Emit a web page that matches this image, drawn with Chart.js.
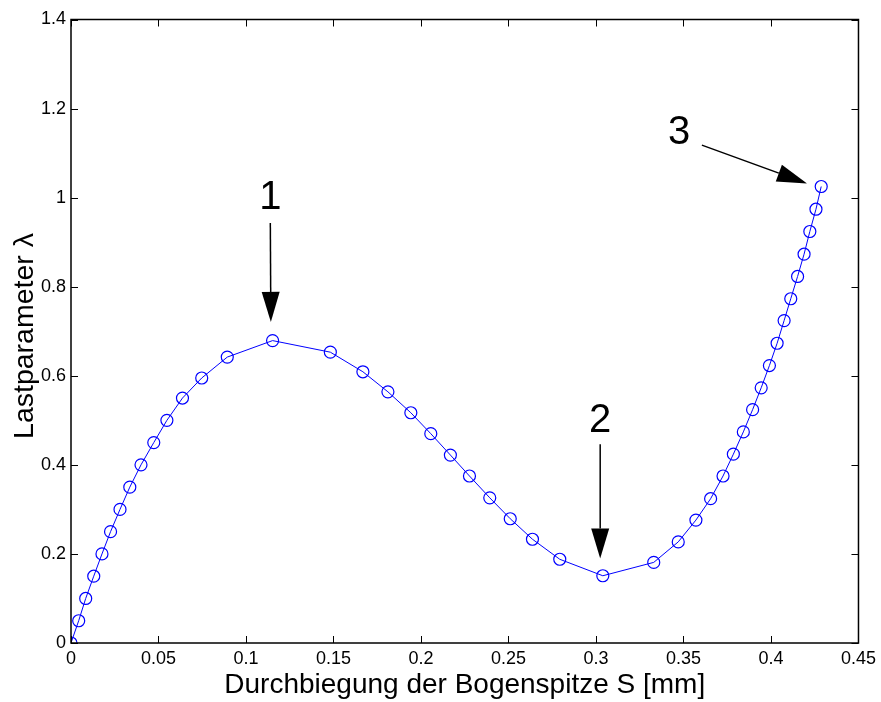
<!DOCTYPE html>
<html>
<head>
<meta charset="utf-8">
<script src="https://cdn.jsdelivr.net/npm/chart.js@4"></script>
<style>
  html, body { margin: 0; padding: 0; background: #fff; }
  canvas { display: block; }
</style>
</head>
<body>
<canvas id="chart" width="881" height="702"></canvas>
<script>
// Durchbiegung S [mm] and load parameter lambda
const S = [0, 0.0044, 0.0084, 0.013, 0.0177, 0.0226, 0.028, 0.0336, 0.040, 0.0473,
  0.0548, 0.0637, 0.0747, 0.0893, 0.1152, 0.1482, 0.1668, 0.1811, 0.1942, 0.2056,
  0.2168, 0.2277, 0.2393, 0.251, 0.2637, 0.2793, 0.3039, 0.333, 0.347, 0.3571,
  0.3655, 0.3726, 0.3785, 0.3842, 0.3895, 0.3944, 0.3991, 0.4035, 0.4075, 0.4113,
  0.4152, 0.4189, 0.4222, 0.4257, 0.4287];
const lambda = [0, 0.05, 0.1, 0.15, 0.2, 0.25, 0.3, 0.35, 0.4, 0.45,
  0.5, 0.55, 0.595, 0.642, 0.679, 0.653, 0.609, 0.564, 0.517, 0.47,
  0.422, 0.375, 0.326, 0.279, 0.233, 0.188, 0.151, 0.181, 0.227, 0.276,
  0.324, 0.375, 0.424, 0.474, 0.524, 0.573, 0.623, 0.673, 0.724, 0.773,
  0.823, 0.873, 0.924, 0.974, 1.025];

const xTicks = [0, 0.05, 0.1, 0.15, 0.2, 0.25, 0.3, 0.35, 0.4, 0.45];
const yTicks = [0, 0.2, 0.4, 0.6, 0.8, 1, 1.2, 1.4];

// annotations (data coordinates): label, label position, arrow tail, arrow tip
const markLabels = ['1', '2', '3'];
const markLabelPos = [[0.1139, 1.0], [0.3024, 0.498], [0.3475, 1.145]];
const markTail = [[0.1139, 0.943], [0.3024, 0.4465], [0.3605, 1.118]];
const markTip = [[0.1142, 0.721], [0.3024, 0.19], [0.4206, 1.032]];

const FONT = "'Liberation Sans', Arial, sans-serif";

const frame = {
  id: 'frame',
  afterDatasetsDraw(chart) {
    const { ctx, chartArea: a, scales: { x, y } } = chart;
    ctx.save();
    ctx.strokeStyle = '#000';
    ctx.lineWidth = 1;
    const tl = 7;
    xTicks.forEach(v => {
      const px = Math.round(x.getPixelForValue(v)) + 0.5;
      ctx.beginPath();
      ctx.moveTo(px, a.bottom); ctx.lineTo(px, a.bottom - tl);
      ctx.moveTo(px, a.top); ctx.lineTo(px, a.top + tl);
      ctx.stroke();
    });
    yTicks.forEach(v => {
      const py = Math.round(y.getPixelForValue(v)) + 0.5;
      ctx.beginPath();
      ctx.moveTo(a.left, py); ctx.lineTo(a.left + tl, py);
      ctx.moveTo(a.right, py); ctx.lineTo(a.right - tl, py);
      ctx.stroke();
    });
    ctx.lineWidth = 1.5;
    ctx.strokeRect(a.left, a.top, a.right - a.left, a.bottom - a.top);

    // y axis title, drawn here so it can sit where the original has it
    ctx.fillStyle = '#000';
    ctx.save();
    ctx.translate(25, 336);
    ctx.rotate(-Math.PI / 2);
    ctx.font = '28.5px ' + FONT;
    ctx.textAlign = 'center';
    ctx.textBaseline = 'middle';
    ctx.fillText('Lastparameter λ', 0, 0);
    ctx.restore();

    // arrows with numbers
    ctx.font = '40px ' + FONT;
    ctx.textAlign = 'center';
    ctx.textBaseline = 'middle';
    markLabels.forEach((t, i) => {
      ctx.fillText(t, x.getPixelForValue(markLabelPos[i][0]), y.getPixelForValue(markLabelPos[i][1]));
      const x0 = x.getPixelForValue(markTail[i][0]), y0 = y.getPixelForValue(markTail[i][1]);
      const x1 = x.getPixelForValue(markTip[i][0]), y1 = y.getPixelForValue(markTip[i][1]);
      const ang = Math.atan2(y1 - y0, x1 - x0);
      const hl = 30, hw = 9;
      const bx = x1 - hl * Math.cos(ang), by = y1 - hl * Math.sin(ang);
      ctx.lineWidth = 1.5;
      ctx.beginPath();
      ctx.moveTo(x0, y0); ctx.lineTo(bx, by);
      ctx.stroke();
      ctx.beginPath();
      ctx.moveTo(x1, y1);
      ctx.lineTo(bx + hw * Math.sin(ang), by - hw * Math.cos(ang));
      ctx.lineTo(bx - hw * Math.sin(ang), by + hw * Math.cos(ang));
      ctx.closePath();
      ctx.fill();
    });
    ctx.restore();
  }
};

new Chart(document.getElementById('chart'), {
  type: 'line',
  data: {
    datasets: [{
      data: S.map((s, i) => ({ x: s, y: lambda[i] })),
      borderColor: '#0000ff',
      borderWidth: 1,
      pointStyle: 'circle',
      pointRadius: 6,
      pointBorderWidth: 1.2,
      pointBorderColor: '#0000ff',
      pointBackgroundColor: 'rgba(0,0,0,0)',
      tension: 0,
      fill: false
    }]
  },
  options: {
    responsive: false,
    animation: false,
    events: [],
    layout: { padding: { top: 19.5, right: 19, left: 0, bottom: 0 } },
    plugins: { legend: { display: false }, tooltip: { enabled: false } },
    scales: {
      x: {
        type: 'linear', min: 0, max: 0.45,
        afterBuildTicks: s => { s.ticks = xTicks.map(v => ({ value: v })); },
        afterFit: s => { s.height = 59; },
        grid: { display: false, drawTicks: false },
        border: { display: false },
        ticks: { color: '#000', padding: 5, maxRotation: 0, autoSkip: false,
          font: { family: FONT, size: 18 }, callback: v => String(+v.toFixed(2)) },
        title: { display: true, text: 'Durchbiegung der Bogenspitze S [mm]', color: '#000',
          font: { family: FONT, size: 28 }, padding: { top: 0, bottom: 0 } }
      },
      y: {
        type: 'linear', min: 0, max: 1.4,
        afterBuildTicks: s => { s.ticks = yTicks.map(v => ({ value: v })); },
        afterFit: s => { s.width = 71; },
        grid: { display: false, drawTicks: false },
        border: { display: false },
        ticks: { color: '#000', padding: 5, autoSkip: false,
          font: { family: FONT, size: 18 }, callback: v => String(+v.toFixed(1)) },
        title: { display: false }
      }
    }
  },
  plugins: [frame]
});
</script>
</body>
</html>
